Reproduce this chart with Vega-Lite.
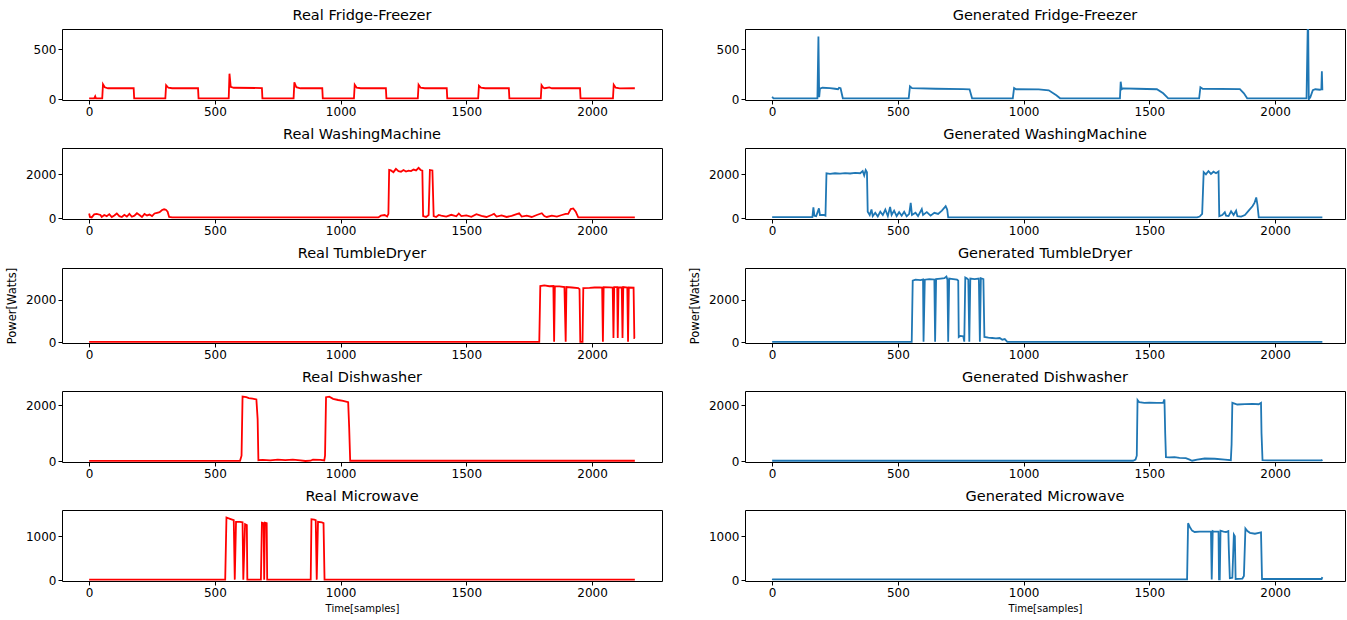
{
"$schema": "https://vega.github.io/schema/vega-lite/v6.json",
"padding": {"left": 5, "top": 7, "right": 0, "bottom": 0},
"background": "white",
"config": {
  "view": {"stroke": "#000", "strokeWidth": 1},
  "title": {"font": "DejaVu Sans", "fontSize": 14.5, "fontWeight": "normal", "color": "#000", "offset": 6, "anchor": "middle"},
  "axis": {"grid": false, "domain": false, "ticks": true, "tickColor": "#000", "tickSize": 4, "labelColor": "#000", "labelFont": "DejaVu Sans", "labelFontSize": 12, "labelPadding": 2, "labelFlush": false, "labelOverlap": false, "format": "d", "titleFont": "DejaVu Sans", "titleFontWeight": "normal", "titleColor": "#000"}
},
"datasets": {
"rff": [{"t":0,"p":10},{"t":20,"p":10},{"t":24,"p":30},{"t":27,"p":10},{"t":52,"p":10},{"t":55,"p":150},{"t":62,"p":120},{"t":75,"p":110},{"t":177,"p":110},{"t":179,"p":10},{"t":303,"p":10},{"t":306,"p":140},{"t":315,"p":115},{"t":330,"p":110},{"t":433,"p":110},{"t":435,"p":10},{"t":555,"p":10},{"t":558,"p":255},{"t":563,"p":125},{"t":575,"p":115},{"t":687,"p":112},{"t":689,"p":10},{"t":813,"p":10},{"t":816,"p":170},{"t":824,"p":120},{"t":840,"p":110},{"t":927,"p":110},{"t":929,"p":10},{"t":1053,"p":10},{"t":1056,"p":145},{"t":1064,"p":115},{"t":1080,"p":110},{"t":1180,"p":110},{"t":1182,"p":10},{"t":1307,"p":10},{"t":1310,"p":145},{"t":1318,"p":115},{"t":1335,"p":110},{"t":1422,"p":110},{"t":1424,"p":10},{"t":1547,"p":10},{"t":1550,"p":135},{"t":1558,"p":115},{"t":1575,"p":110},{"t":1669,"p":110},{"t":1671,"p":10},{"t":1796,"p":10},{"t":1799,"p":140},{"t":1806,"p":115},{"t":1812,"p":110},{"t":1830,"p":118},{"t":1840,"p":110},{"t":1952,"p":110},{"t":1954,"p":10},{"t":2083,"p":10},{"t":2086,"p":145},{"t":2094,"p":115},{"t":2110,"p":108},{"t":2170,"p":110}],
"gff": [{"t":0,"p":25},{"t":5,"p":10},{"t":180,"p":10},{"t":184,"p":625},{"t":187,"p":20},{"t":190,"p":105},{"t":200,"p":115},{"t":230,"p":112},{"t":250,"p":105},{"t":262,"p":100},{"t":266,"p":115},{"t":272,"p":110},{"t":281,"p":10},{"t":543,"p":10},{"t":548,"p":130},{"t":556,"p":112},{"t":650,"p":105},{"t":760,"p":102},{"t":785,"p":100},{"t":795,"p":10},{"t":957,"p":10},{"t":962,"p":112},{"t":970,"p":100},{"t":1060,"p":98},{"t":1100,"p":90},{"t":1130,"p":40},{"t":1145,"p":10},{"t":1383,"p":10},{"t":1386,"p":175},{"t":1390,"p":100},{"t":1395,"p":108},{"t":1450,"p":105},{"t":1530,"p":100},{"t":1555,"p":60},{"t":1575,"p":10},{"t":1698,"p":10},{"t":1703,"p":120},{"t":1712,"p":105},{"t":1860,"p":102},{"t":1876,"p":60},{"t":1889,"p":10},{"t":2125,"p":10},{"t":2131,"p":900},{"t":2134,"p":0},{"t":2140,"p":20},{"t":2150,"p":90},{"t":2160,"p":100},{"t":2178,"p":95},{"t":2184,"p":100},{"t":2186,"p":280},{"t":2188,"p":90}],
"rwm": [{"t":0,"p":220},{"t":3,"p":60},{"t":10,"p":40},{"t":20,"p":180},{"t":30,"p":200},{"t":45,"p":150},{"t":50,"p":60},{"t":60,"p":150},{"t":70,"p":100},{"t":80,"p":190},{"t":90,"p":60},{"t":100,"p":130},{"t":110,"p":220},{"t":120,"p":100},{"t":130,"p":60},{"t":140,"p":160},{"t":150,"p":80},{"t":160,"p":200},{"t":170,"p":70},{"t":180,"p":120},{"t":190,"p":230},{"t":200,"p":150},{"t":210,"p":60},{"t":220,"p":200},{"t":230,"p":130},{"t":240,"p":170},{"t":250,"p":100},{"t":260,"p":220},{"t":270,"p":250},{"t":280,"p":280},{"t":290,"p":380},{"t":298,"p":410},{"t":305,"p":390},{"t":312,"p":300},{"t":318,"p":60},{"t":330,"p":40},{"t":1150,"p":40},{"t":1160,"p":120},{"t":1175,"p":150},{"t":1185,"p":80},{"t":1190,"p":200},{"t":1193,"p":2200},{"t":1200,"p":2180},{"t":1210,"p":2100},{"t":1220,"p":2250},{"t":1230,"p":2150},{"t":1240,"p":2120},{"t":1250,"p":2200},{"t":1260,"p":2130},{"t":1270,"p":2170},{"t":1280,"p":2150},{"t":1290,"p":2220},{"t":1300,"p":2180},{"t":1310,"p":2300},{"t":1318,"p":2200},{"t":1325,"p":2170},{"t":1328,"p":100},{"t":1340,"p":60},{"t":1350,"p":150},{"t":1355,"p":2200},{"t":1365,"p":2180},{"t":1370,"p":100},{"t":1380,"p":60},{"t":1390,"p":150},{"t":1400,"p":120},{"t":1420,"p":80},{"t":1440,"p":160},{"t":1460,"p":90},{"t":1470,"p":220},{"t":1480,"p":100},{"t":1500,"p":130},{"t":1520,"p":70},{"t":1540,"p":190},{"t":1560,"p":110},{"t":1580,"p":60},{"t":1600,"p":150},{"t":1610,"p":200},{"t":1620,"p":80},{"t":1640,"p":130},{"t":1660,"p":60},{"t":1680,"p":110},{"t":1700,"p":190},{"t":1710,"p":230},{"t":1720,"p":80},{"t":1740,"p":120},{"t":1760,"p":60},{"t":1780,"p":150},{"t":1800,"p":230},{"t":1810,"p":100},{"t":1820,"p":60},{"t":1840,"p":120},{"t":1860,"p":80},{"t":1880,"p":150},{"t":1895,"p":200},{"t":1905,"p":200},{"t":1915,"p":420},{"t":1925,"p":450},{"t":1935,"p":300},{"t":1945,"p":40},{"t":2170,"p":40}],
"gwm": [{"t":0,"p":50},{"t":160,"p":50},{"t":164,"p":500},{"t":168,"p":120},{"t":175,"p":100},{"t":186,"p":450},{"t":190,"p":150},{"t":205,"p":150},{"t":212,"p":120},{"t":216,"p":2050},{"t":230,"p":2020},{"t":250,"p":2050},{"t":270,"p":2030},{"t":290,"p":2060},{"t":310,"p":2040},{"t":330,"p":2070},{"t":350,"p":2050},{"t":360,"p":2150},{"t":366,"p":1950},{"t":372,"p":2200},{"t":377,"p":2100},{"t":380,"p":300},{"t":388,"p":150},{"t":395,"p":400},{"t":400,"p":100},{"t":410,"p":250},{"t":420,"p":80},{"t":430,"p":300},{"t":440,"p":150},{"t":450,"p":400},{"t":460,"p":100},{"t":469,"p":520},{"t":475,"p":150},{"t":485,"p":350},{"t":495,"p":100},{"t":505,"p":280},{"t":515,"p":120},{"t":525,"p":300},{"t":535,"p":90},{"t":545,"p":200},{"t":551,"p":700},{"t":556,"p":150},{"t":570,"p":250},{"t":580,"p":100},{"t":595,"p":420},{"t":600,"p":150},{"t":615,"p":280},{"t":630,"p":120},{"t":645,"p":250},{"t":660,"p":200},{"t":675,"p":350},{"t":690,"p":550},{"t":696,"p":400},{"t":700,"p":40},{"t":1690,"p":40},{"t":1700,"p":80},{"t":1710,"p":200},{"t":1716,"p":2100},{"t":1725,"p":2000},{"t":1735,"p":2150},{"t":1745,"p":2020},{"t":1755,"p":2120},{"t":1765,"p":2050},{"t":1775,"p":2130},{"t":1778,"p":100},{"t":1790,"p":150},{"t":1800,"p":280},{"t":1805,"p":120},{"t":1815,"p":100},{"t":1825,"p":320},{"t":1835,"p":150},{"t":1845,"p":350},{"t":1850,"p":100},{"t":1865,"p":80},{"t":1880,"p":150},{"t":1895,"p":350},{"t":1910,"p":550},{"t":1918,"p":700},{"t":1925,"p":950},{"t":1930,"p":600},{"t":1935,"p":40},{"t":2188,"p":40}],
"rtd": [{"t":0,"p":20},{"t":1790,"p":20},{"t":1794,"p":2650},{"t":1810,"p":2680},{"t":1830,"p":2640},{"t":1846,"p":2650},{"t":1849,"p":20},{"t":1852,"p":2640},{"t":1870,"p":2630},{"t":1890,"p":2600},{"t":1895,"p":30},{"t":1898,"p":2600},{"t":1920,"p":2580},{"t":1945,"p":2550},{"t":1950,"p":2500},{"t":1953,"p":20},{"t":1962,"p":20},{"t":1965,"p":2550},{"t":1990,"p":2560},{"t":2010,"p":2580},{"t":2030,"p":2590},{"t":2040,"p":2580},{"t":2043,"p":20},{"t":2046,"p":2600},{"t":2070,"p":2590},{"t":2082,"p":2580},{"t":2085,"p":200},{"t":2088,"p":2600},{"t":2100,"p":2600},{"t":2102,"p":200},{"t":2105,"p":2580},{"t":2118,"p":2580},{"t":2121,"p":200},{"t":2124,"p":2600},{"t":2140,"p":2580},{"t":2143,"p":20},{"t":2146,"p":2580},{"t":2165,"p":2570},{"t":2168,"p":200},{"t":2170,"p":200}],
"gtd": [{"t":0,"p":20},{"t":555,"p":20},{"t":559,"p":2900},{"t":570,"p":2950},{"t":590,"p":2930},{"t":600,"p":2960},{"t":602,"p":30},{"t":607,"p":2950},{"t":625,"p":2980},{"t":645,"p":2960},{"t":648,"p":30},{"t":652,"p":2980},{"t":670,"p":3000},{"t":685,"p":3020},{"t":693,"p":3100},{"t":697,"p":2950},{"t":700,"p":30},{"t":704,"p":3000},{"t":720,"p":2980},{"t":735,"p":2950},{"t":740,"p":2900},{"t":742,"p":250},{"t":748,"p":300},{"t":760,"p":280},{"t":764,"p":30},{"t":768,"p":3050},{"t":775,"p":3000},{"t":780,"p":2950},{"t":784,"p":30},{"t":788,"p":3000},{"t":805,"p":2980},{"t":822,"p":3000},{"t":826,"p":30},{"t":830,"p":3020},{"t":840,"p":2980},{"t":844,"p":250},{"t":860,"p":220},{"t":875,"p":200},{"t":890,"p":180},{"t":905,"p":200},{"t":915,"p":120},{"t":925,"p":150},{"t":935,"p":20},{"t":2188,"p":20}],
"rdw": [{"t":0,"p":15},{"t":600,"p":15},{"t":606,"p":200},{"t":610,"p":2300},{"t":625,"p":2280},{"t":635,"p":2250},{"t":650,"p":2230},{"t":665,"p":2200},{"t":670,"p":1500},{"t":673,"p":40},{"t":690,"p":50},{"t":720,"p":30},{"t":750,"p":60},{"t":780,"p":40},{"t":810,"p":60},{"t":840,"p":30},{"t":860,"p":10},{"t":880,"p":20},{"t":890,"p":60},{"t":920,"p":50},{"t":935,"p":30},{"t":938,"p":200},{"t":942,"p":2280},{"t":955,"p":2300},{"t":970,"p":2220},{"t":990,"p":2180},{"t":1010,"p":2150},{"t":1030,"p":2100},{"t":1034,"p":1200},{"t":1038,"p":20},{"t":2170,"p":20}],
"gdw": [{"t":0,"p":20},{"t":1435,"p":20},{"t":1445,"p":60},{"t":1450,"p":200},{"t":1453,"p":2180},{"t":1460,"p":2100},{"t":1480,"p":2080},{"t":1500,"p":2090},{"t":1530,"p":2080},{"t":1555,"p":2090},{"t":1560,"p":2200},{"t":1563,"p":1000},{"t":1566,"p":150},{"t":1580,"p":140},{"t":1600,"p":150},{"t":1620,"p":120},{"t":1645,"p":110},{"t":1660,"p":60},{"t":1670,"p":20},{"t":1690,"p":60},{"t":1720,"p":100},{"t":1760,"p":90},{"t":1800,"p":60},{"t":1824,"p":40},{"t":1827,"p":600},{"t":1830,"p":2080},{"t":1850,"p":2020},{"t":1880,"p":2030},{"t":1910,"p":2040},{"t":1935,"p":2030},{"t":1944,"p":2080},{"t":1946,"p":1000},{"t":1950,"p":40},{"t":1970,"p":30},{"t":2185,"p":30},{"t":2188,"p":60}],
"rmw": [{"t":0,"p":15},{"t":541,"p":15},{"t":546,"p":1430},{"t":560,"p":1400},{"t":575,"p":1370},{"t":579,"p":15},{"t":584,"p":1330},{"t":600,"p":1330},{"t":610,"p":1320},{"t":613,"p":15},{"t":620,"p":1280},{"t":627,"p":1260},{"t":629,"p":15},{"t":683,"p":15},{"t":687,"p":1310},{"t":694,"p":1300},{"t":696,"p":15},{"t":699,"p":1310},{"t":706,"p":1300},{"t":708,"p":15},{"t":881,"p":15},{"t":884,"p":1390},{"t":895,"p":1380},{"t":901,"p":1370},{"t":905,"p":15},{"t":910,"p":1330},{"t":925,"p":1320},{"t":932,"p":1300},{"t":936,"p":15},{"t":2170,"p":15}],
"gmw": [{"t":0,"p":30},{"t":3,"p":20},{"t":1650,"p":20},{"t":1654,"p":1300},{"t":1662,"p":1200},{"t":1670,"p":1130},{"t":1680,"p":1100},{"t":1700,"p":1110},{"t":1720,"p":1110},{"t":1745,"p":1115},{"t":1748,"p":20},{"t":1752,"p":1120},{"t":1756,"p":1110},{"t":1775,"p":1110},{"t":1777,"p":20},{"t":1780,"p":20},{"t":1783,"p":1130},{"t":1795,"p":1110},{"t":1805,"p":1100},{"t":1814,"p":1120},{"t":1816,"p":700},{"t":1820,"p":50},{"t":1830,"p":60},{"t":1836,"p":1040},{"t":1840,"p":1000},{"t":1843,"p":30},{"t":1870,"p":40},{"t":1876,"p":100},{"t":1882,"p":1180},{"t":1890,"p":1120},{"t":1900,"p":1080},{"t":1920,"p":1060},{"t":1935,"p":1080},{"t":1944,"p":1090},{"t":1948,"p":30},{"t":1960,"p":30},{"t":2185,"p":30},{"t":2188,"p":70}]
},
"columns": 2,
"spacing": {"row": 8, "column": 25},
"concat": [
{"title": "Real Fridge-Freezer", "width": 600, "height": 71, "data": {"name": "rff"},
 "mark": {"type": "line", "color": "#ff0000", "strokeWidth": 1.8, "clip": true},
 "encoding": {"x": {"field": "t", "type": "quantitative", "scale": {"domain": [-108, 2278], "nice": false, "zero": false}, "axis": {"values": [0, 500, 1000, 1500, 2000], "title": null}},
  "y": {"field": "p", "type": "quantitative", "scale": {"domain": [-7, 700], "nice": false, "zero": false}, "axis": {"values": [0, 500], "title": null}}}},
{"title": "Generated Fridge-Freezer", "width": 600, "height": 71, "data": {"name": "gff"},
 "mark": {"type": "line", "color": "#1f77b4", "strokeWidth": 1.8, "clip": true},
 "encoding": {"x": {"field": "t", "type": "quantitative", "scale": {"domain": [-108, 2278], "nice": false, "zero": false}, "axis": {"values": [0, 500, 1000, 1500, 2000], "title": null}},
  "y": {"field": "p", "type": "quantitative", "scale": {"domain": [-7, 700], "nice": false, "zero": false}, "axis": {"values": [0, 500], "title": null}}}},
{"title": "Real WashingMachine", "width": 600, "height": 71, "data": {"name": "rwm"},
 "mark": {"type": "line", "color": "#ff0000", "strokeWidth": 1.8, "clip": true},
 "encoding": {"x": {"field": "t", "type": "quantitative", "scale": {"domain": [-108, 2278], "nice": false, "zero": false}, "axis": {"values": [0, 500, 1000, 1500, 2000], "title": null}},
  "y": {"field": "p", "type": "quantitative", "scale": {"domain": [-32, 3200], "nice": false, "zero": false}, "axis": {"values": [0, 2000], "title": null}}}},
{"title": "Generated WashingMachine", "width": 600, "height": 71, "data": {"name": "gwm"},
 "mark": {"type": "line", "color": "#1f77b4", "strokeWidth": 1.8, "clip": true},
 "encoding": {"x": {"field": "t", "type": "quantitative", "scale": {"domain": [-108, 2278], "nice": false, "zero": false}, "axis": {"values": [0, 500, 1000, 1500, 2000], "title": null}},
  "y": {"field": "p", "type": "quantitative", "scale": {"domain": [-32, 3200], "nice": false, "zero": false}, "axis": {"values": [0, 2000], "title": null}}}},
{"title": "Real TumbleDryer", "width": 600, "height": 75, "data": {"name": "rtd"},
 "mark": {"type": "line", "color": "#ff0000", "strokeWidth": 1.8, "clip": true},
 "encoding": {"x": {"field": "t", "type": "quantitative", "scale": {"domain": [-108, 2278], "nice": false, "zero": false}, "axis": {"values": [0, 500, 1000, 1500, 2000], "title": null}},
  "y": {"field": "p", "type": "quantitative", "scale": {"domain": [-35, 3500], "nice": false, "zero": false}, "axis": {"values": [0, 2000], "title": "Power[Watts]", "titleFontSize": 11.5, "titlePadding": 8}}}},
{"title": "Generated TumbleDryer", "width": 600, "height": 75, "data": {"name": "gtd"},
 "mark": {"type": "line", "color": "#1f77b4", "strokeWidth": 1.8, "clip": true},
 "encoding": {"x": {"field": "t", "type": "quantitative", "scale": {"domain": [-108, 2278], "nice": false, "zero": false}, "axis": {"values": [0, 500, 1000, 1500, 2000], "title": null}},
  "y": {"field": "p", "type": "quantitative", "scale": {"domain": [-35, 3500], "nice": false, "zero": false}, "axis": {"values": [0, 2000], "title": "Power[Watts]", "titleFontSize": 11.5, "titlePadding": 8}}}},
{"title": "Real Dishwasher", "width": 600, "height": 71, "data": {"name": "rdw"},
 "mark": {"type": "line", "color": "#ff0000", "strokeWidth": 1.8, "clip": true},
 "encoding": {"x": {"field": "t", "type": "quantitative", "scale": {"domain": [-108, 2278], "nice": false, "zero": false}, "axis": {"values": [0, 500, 1000, 1500, 2000], "title": null}},
  "y": {"field": "p", "type": "quantitative", "scale": {"domain": [-25, 2500], "nice": false, "zero": false}, "axis": {"values": [0, 2000], "title": null}}}},
{"title": "Generated Dishwasher", "width": 600, "height": 71, "data": {"name": "gdw"},
 "mark": {"type": "line", "color": "#1f77b4", "strokeWidth": 1.8, "clip": true},
 "encoding": {"x": {"field": "t", "type": "quantitative", "scale": {"domain": [-108, 2278], "nice": false, "zero": false}, "axis": {"values": [0, 500, 1000, 1500, 2000], "title": null}},
  "y": {"field": "p", "type": "quantitative", "scale": {"domain": [-25, 2500], "nice": false, "zero": false}, "axis": {"values": [0, 2000], "title": null}}}},
{"title": "Real Microwave", "width": 600, "height": 71, "data": {"name": "rmw"},
 "mark": {"type": "line", "color": "#ff0000", "strokeWidth": 1.8, "clip": true},
 "encoding": {"x": {"field": "t", "type": "quantitative", "scale": {"domain": [-108, 2278], "nice": false, "zero": false}, "axis": {"values": [0, 500, 1000, 1500, 2000], "title": "Time[samples]", "titleFontSize": 10, "titlePadding": 5}},
  "y": {"field": "p", "type": "quantitative", "scale": {"domain": [-16, 1600], "nice": false, "zero": false}, "axis": {"values": [0, 1000], "title": null}}}},
{"title": "Generated Microwave", "width": 600, "height": 71, "data": {"name": "gmw"},
 "mark": {"type": "line", "color": "#1f77b4", "strokeWidth": 1.8, "clip": true},
 "encoding": {"x": {"field": "t", "type": "quantitative", "scale": {"domain": [-108, 2278], "nice": false, "zero": false}, "axis": {"values": [0, 500, 1000, 1500, 2000], "title": "Time[samples]", "titleFontSize": 10, "titlePadding": 5}},
  "y": {"field": "p", "type": "quantitative", "scale": {"domain": [-16, 1600], "nice": false, "zero": false}, "axis": {"values": [0, 1000], "title": null}}}}
]
}
